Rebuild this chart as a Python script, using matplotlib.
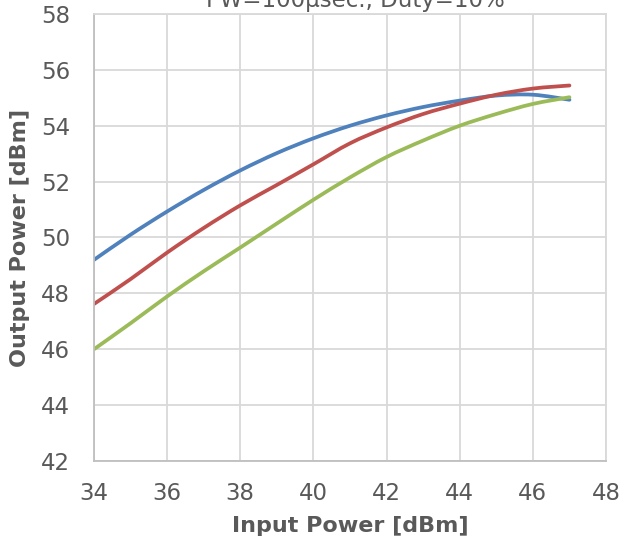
import matplotlib.pyplot as plt
from matplotlib.path import Path
from matplotlib.patches import PathPatch

# input drive level [dBm]
pin = [34, 35, 36, 37, 38, 39, 40, 41, 42, 43, 44, 45, 46, 47]

# output power [dBm] for each of the three measured units
pout_blue = [49.2, 50.1, 50.93, 51.7, 52.4, 53.02, 53.55, 54.0, 54.37, 54.67, 54.9, 55.08, 55.11, 54.93]
pout_red = [47.62, 48.51, 49.46, 50.34, 51.15, 51.88, 52.62, 53.37, 53.94, 54.42, 54.79, 55.11, 55.33, 55.44]
pout_green = [46.0, 46.93, 47.89, 48.79, 49.64, 50.5, 51.35, 52.15, 52.88, 53.47, 54.0, 54.42, 54.78, 55.02]

x_ticks = [34, 36, 38, 40, 42, 44, 46, 48]
y_ticks = [42, 44, 46, 48, 50, 52, 54, 56, 58]

txt = "#595959"
plt.rcParams['font.family'] = ['DejaVu Sans']


def smooth_path(xs, ys):
    # Catmull-Rom through the points, written as cubic Bezier segments
    pts = list(zip(xs, ys))
    verts = [pts[0]]
    codes = [Path.MOVETO]
    n = len(pts)
    for i in range(n - 1):
        p0 = pts[i - 1] if i > 0 else pts[i]
        p1 = pts[i]
        p2 = pts[i + 1]
        p3 = pts[i + 2] if i + 2 < n else pts[i + 1]
        c1 = (p1[0] + (p2[0] - p0[0]) / 6, p1[1] + (p2[1] - p0[1]) / 6)
        c2 = (p2[0] - (p3[0] - p1[0]) / 6, p2[1] - (p3[1] - p1[1]) / 6)
        verts += [c1, c2, p2]
        codes += [Path.CURVE4] * 3
    return Path(verts, codes)


fig = plt.figure(figsize=(6.22, 5.46), dpi=100)
ax = fig.add_axes([0.1511, 0.1557, 0.8232, 0.8187])

for ys, col in [(pout_blue, "#4F81BD"), (pout_red, "#C0504D"), (pout_green, "#9BBB59")]:
    ax.add_patch(PathPatch(smooth_path(pin, ys), facecolor="none", edgecolor=col,
                           lw=2.7, capstyle="round", joinstyle="round"))

ax.set_xlim(34, 48)
ax.set_ylim(42, 58)
ax.set_xticks(x_ticks)
ax.set_yticks(y_ticks)
ax.grid(True, color="#d9d9d9", lw=1.3)
ax.set_axisbelow(True)
ax.tick_params(length=0, labelsize=16.5, labelcolor=txt)
ax.tick_params(axis='x', pad=15)
ax.tick_params(axis='y', pad=17)
for side in ["top", "right"]:
    ax.spines[side].set_color("#d9d9d9")
    ax.spines[side].set_linewidth(1.3)
for side in ["left", "bottom"]:
    ax.spines[side].set_color("#bfbfbf")
    ax.spines[side].set_linewidth(1.3)

ax.set_xlabel("Input Power [dBm]", fontsize=16, fontweight="bold", color=txt, labelpad=8)
ax.set_ylabel("Output Power [dBm]", fontsize=16, fontweight="bold", color=txt, labelpad=8)

fig.text(0.571, 1 - 7 / 546, "PW=100μsec., Duty=10%", ha="center", va="baseline",
         fontsize=16.5, color=txt)

fig.savefig("out.png", dpi=100)
